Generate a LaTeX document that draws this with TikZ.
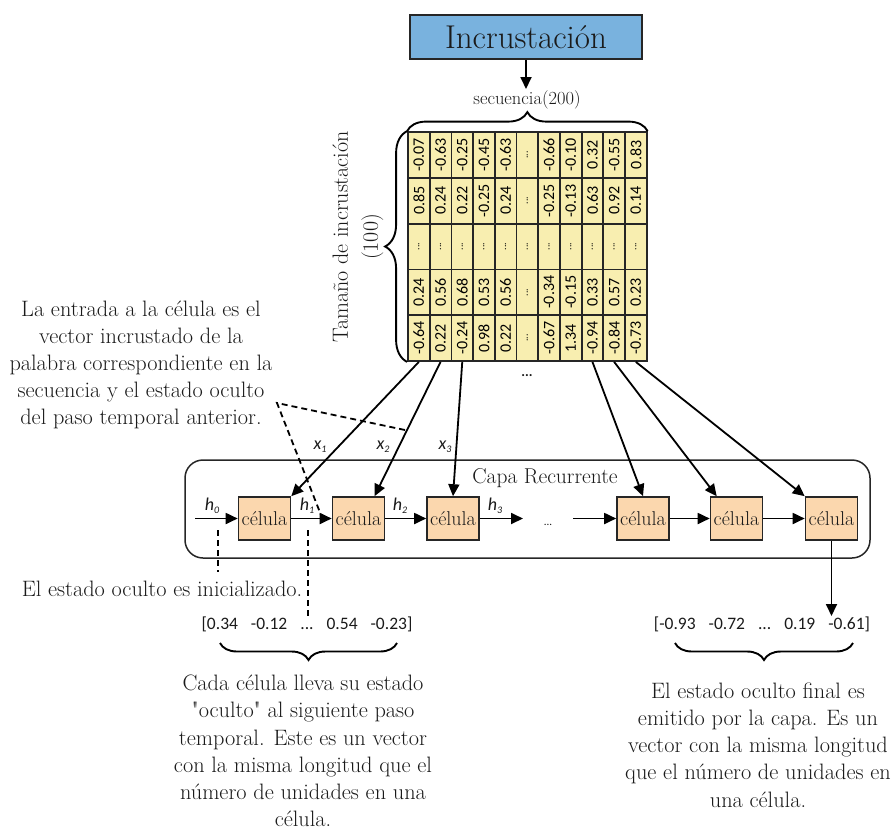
\documentclass[tikz,border=0pt]{standalone}
\usepackage{fontspec}
\newfontfamily\numfont{Carlito}
\usetikzlibrary{arrows.meta,decorations.pathreplacing,calc}

\definecolor{embblue}{HTML}{79B2DE}
\definecolor{cellpeach}{HTML}{FBD7AE}
\definecolor{matyellow}{HTML}{F8EEB0}
\definecolor{inkgray}{HTML}{1A1A1A}

% small dots used inside the embedding matrix
\newcommand\celldots{{\fontsize{10}{10}\selectfont...}}
% italic label with a lowered index
\newcommand\idxlabel[2]{#1\raisebox{-3pt}{\fontsize{10}{10}\selectfont #2}}

\begin{document}
\begin{tikzpicture}[x=1pt,y=-1pt,
  every node/.style={text=inkgray},
  arr/.style={line width=1.8pt, draw=black, -{Triangle[length=12pt,width=11pt]}},
  dashline/.style={line width=1.8pt, draw=black, dash pattern=on 6pt off 4pt},
  brc/.style={line width=1.9pt, draw=black, decorate, decoration={brace, amplitude=#1}},
  note/.style={align=center, font=\fontsize{22.3}{27.2}\selectfont},
  mcell/.style={draw=black!85, line width=1.8pt, fill=matyellow,
    minimum width=21.7pt, minimum height=45.8pt, inner sep=0pt,
    font=\numfont\fontsize{16}{16}\selectfont, text=black},
  cellbox/.style={draw=black!85, line width=1.6pt, fill=cellpeach,
    minimum width=52pt, minimum height=43pt, inner sep=0pt,
    font=\fontsize{20}{20}\selectfont},
  lab/.style={font=\numfont\itshape\fontsize{18}{18}\selectfont, inner sep=0pt},
  vec/.style={font=\numfont\fontsize{17.5}{17.5}\selectfont, inner sep=0pt}
]
\useasboundingbox (0,0) rectangle (892,831);

% embedding layer
\node[draw=black!85, line width=1.5pt, fill=embblue, minimum width=232pt,
      minimum height=44pt, inner sep=0pt, font=\fontsize{33}{33}\selectfont]
      (emb) at (526,37) {Incrustación};
\coordinate (seqtop) at (526,89);
\draw[arr] (emb.south) -- (seqtop);
\node[font=\fontsize{18.5}{19}\selectfont] (seq) at (527,100) {secuencia(200)};

% embedding matrix, one list per column (top to bottom)
\foreach \colvals [count=\i] in {
  {-0.07,0.85,\celldots,0.24,-0.64},
  {-0.63,0.24,\celldots,0.56,0.22},
  {-0.25,0.22,\celldots,0.68,-0.24},
  {-0.45,-0.25,\celldots,0.53,0.98},
  {-0.63,0.24,\celldots,0.56,0.22},
  {\celldots,\celldots,\celldots,\celldots,\celldots},
  {-0.66,-0.25,\celldots,-0.34,-0.67},
  {-0.10,-0.13,\celldots,-0.15,1.34},
  {0.32,0.63,\celldots,0.33,-0.94},
  {-0.55,0.92,\celldots,0.57,-0.84},
  {0.83,0.14,\celldots,0.23,-0.73}}{
  \foreach \v [count=\j] in \colvals {
    \node[mcell] (m-\j-\i) at ({408+21.7*(\i-0.5)},{132+45.8*(\j-0.5)}) {\rotatebox{90}{\v}};
  }
}

% braces around the matrix
\draw[brc=19] (m-1-1.north west) -- (m-1-11.north east);
\draw[brc=22] (m-5-1.south west) -- (m-1-1.north west);
\node[rotate=90, align=center, font=\fontsize{22}{30}\selectfont]
      (dimlab) at (358,237) {Tamaño de incrustación\\(100)};
\node[font=\numfont\bfseries\fontsize{14}{14}\selectfont] (moredots) at (527,376) {...};

% recurrent layer
\node[draw=black!85, line width=1.5pt, rounded corners=18pt, minimum width=685pt,
      minimum height=98pt, inner sep=0pt] (layer) at (527.5,509) {};
\node[font=\fontsize{21.5}{22}\selectfont] (layername) at (545,478) {Capa Recurrente};

\foreach \cx [count=\k] in {264.5,358.5,453,643,736.5,831.5}
  \node[cellbox] (c\k) at (\cx,518.5) {célula};

% hidden state chain
\coordinate (h0in) at (195,518.5);
\coordinate (h3out) at (523,518.5);
\coordinate (resume) at (573,518.5);
\draw[arr] (h0in) -- (c1.west);
\draw[arr] (c1.east) -- (c2.west);
\draw[arr] (c2.east) -- (c3.west);
\draw[arr] (c3.east) -- (h3out);
\node[font=\numfont\fontsize{11}{11}\selectfont] (gapdots) at (548,525) {...};
\draw[arr] (resume) -- (c4.west);
\draw[arr] (c4.east) -- (c5.west);
\draw[arr] (c5.east) -- (c6.west);

\node[lab] (lh0) at (212,506) {\idxlabel{h}{0}};
\node[lab] (lh1) at (307,506) {\idxlabel{h}{1}};
\node[lab] (lh2) at (400,506) {\idxlabel{h}{2}};
\node[lab] (lh3) at (495,506) {\idxlabel{h}{3}};

% inputs from the matrix columns
\draw[arr] (m-5-1.south) -- (c1.north east);
\draw[arr] (m-5-2.south) -- ($(c2.north)+(16,0)$);
\draw[arr] (m-5-3.south) -- (c3.north);
\draw[arr] (m-5-9.south) -- (c4.north);
\draw[arr] (m-5-10.south) -- ($(c5.north west)+(7,0)$);
\draw[arr] (m-5-11.south) -- (c6.north west);

\node[lab] (lx1) at (320,447) {\idxlabel{x}{1}};
\node[lab] (lx2) at (383,447) {\idxlabel{x}{2}};
\node[lab] (lx3) at (445,447) {\idxlabel{x}{3}};

% final output
\coordinate (outtip) at (831.5,616);
\draw[arr] (c6.south) -- (outtip);

% hidden state vectors
\node[vec] (hvec) at (307,624) {[0.34\hspace{13pt}-0.12\hspace{13pt}...\hspace{13pt}0.54\hspace{13pt}-0.23]};
\node[vec] (ovec) at (762,624) {[-0.93\hspace{13pt}-0.72\hspace{13pt}...\hspace{13pt}0.19\hspace{13pt}-0.61]};

\coordinate (hbr-l) at (220,643);
\coordinate (hbr-r) at (397,643);
\coordinate (obr-l) at (675,643);
\coordinate (obr-r) at (853,643);
\draw[brc=17] (hbr-r) -- (hbr-l);
\draw[brc=17] (obr-r) -- (obr-l);

% annotations
\node[note] (n-input) at (141,365) {La entrada a la célula es el\\vector incrustado de la\\palabra correspondiente en la\\secuencia y el estado oculto\\del paso temporal anterior.};
\node[note] (n-init) at (162,589) {El estado oculto es inicializado.};
\node[note] (n-carry) at (303,751) {Cada célula lleva su estado\\\textquotedbl oculto\textquotedbl\ al siguiente paso\\temporal. Este es un vector\\con la misma longitud que el\\número de unidades en una\\célula.};
\node[note] (n-final) at (758,745) {El estado oculto final es\\emitido por la capa. Es un\\vector con la misma longitud\\que el número de unidades en\\una célula.};

% dashed pointers
\coordinate (ptr) at (277,403);
\coordinate (ptrA) at (405,430);
\coordinate (ptrB) at (321,515);
\draw[dashline] (ptrA) -- (ptr) -- (ptrB);
\coordinate (init-top) at (218,530);
\coordinate (init-bot) at (218,572);
\draw[dashline] (init-top) -- (init-bot);
\coordinate (carry-top) at (308,530);
\coordinate (carry-bot) at (308,616);
\draw[dashline] (carry-top) -- (carry-bot);
\end{tikzpicture}
\end{document}
